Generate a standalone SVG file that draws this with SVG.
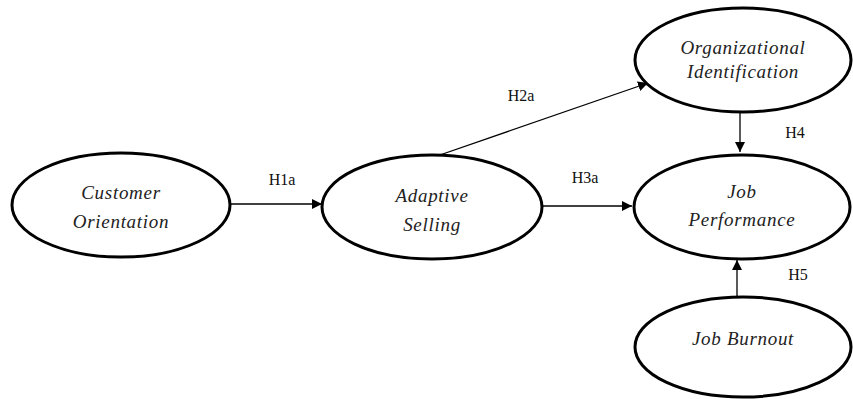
<svg xmlns="http://www.w3.org/2000/svg" width="853" height="399" viewBox="0 0 853 399">
<style>
.node ellipse{fill:#fff;stroke:#000;stroke-width:3}
.lbl{font-family:"Liberation Serif",serif;font-style:italic;font-size:19px;letter-spacing:0.7px;fill:#222;text-anchor:middle}
.h{font-family:"Liberation Serif",serif;font-size:16px;fill:#111;text-anchor:middle}
.edges line{stroke:#000;stroke-width:1.3;fill:none}
</style>
<defs>
<marker id="arr" viewBox="0 0 10 10" refX="10" refY="5" markerWidth="10" markerHeight="10" markerUnits="userSpaceOnUse" orient="auto">
<path d="M0,0 L10,5 L0,10 z" fill="#000"/>
</marker>
</defs>
<rect width="853" height="399" fill="#fff"/>
<g class="edges">
<line x1="231" y1="204" x2="322" y2="204" marker-end="url(#arr)"/>
<line x1="543" y1="206" x2="632" y2="206" marker-end="url(#arr)"/>
<line x1="437" y1="156" x2="648" y2="83" marker-end="url(#arr)"/>
<line x1="740" y1="113" x2="740" y2="152" marker-end="url(#arr)"/>
<line x1="737" y1="297" x2="737" y2="260" marker-end="url(#arr)"/>
<text class="h" x="282" y="185">H1a</text>
<text class="h" x="585" y="183">H3a</text>
<text class="h" x="521" y="101">H2a</text>
<text class="h" x="795" y="138">H4</text>
<text class="h" x="798" y="280">H5</text>
</g>
<g id="customer" class="node">
<ellipse cx="121" cy="205" rx="109" ry="52"/>
<text class="lbl" x="121" y="199">Customer</text>
<text class="lbl" x="121" y="228">Orientation</text>
</g>
<g id="adaptive" class="node">
<ellipse cx="432" cy="207" rx="110" ry="52"/>
<text class="lbl" x="432" y="202">Adaptive</text>
<text class="lbl" x="432" y="231">Selling</text>
</g>
<g id="orgid" class="node">
<ellipse cx="743" cy="60" rx="108" ry="52"/>
<text class="lbl" x="743" y="54">Organizational</text>
<text class="lbl" x="743" y="78">Identification</text>
</g>
<g id="jobperf" class="node">
<ellipse cx="742" cy="207" rx="108" ry="52"/>
<text class="lbl" x="742" y="198">Job</text>
<text class="lbl" x="742" y="226">Performance</text>
</g>
<g id="burnout" class="node">
<ellipse cx="743" cy="347" rx="108" ry="50"/>
<text class="lbl" x="743" y="345">Job Burnout</text>
</g>
</svg>
